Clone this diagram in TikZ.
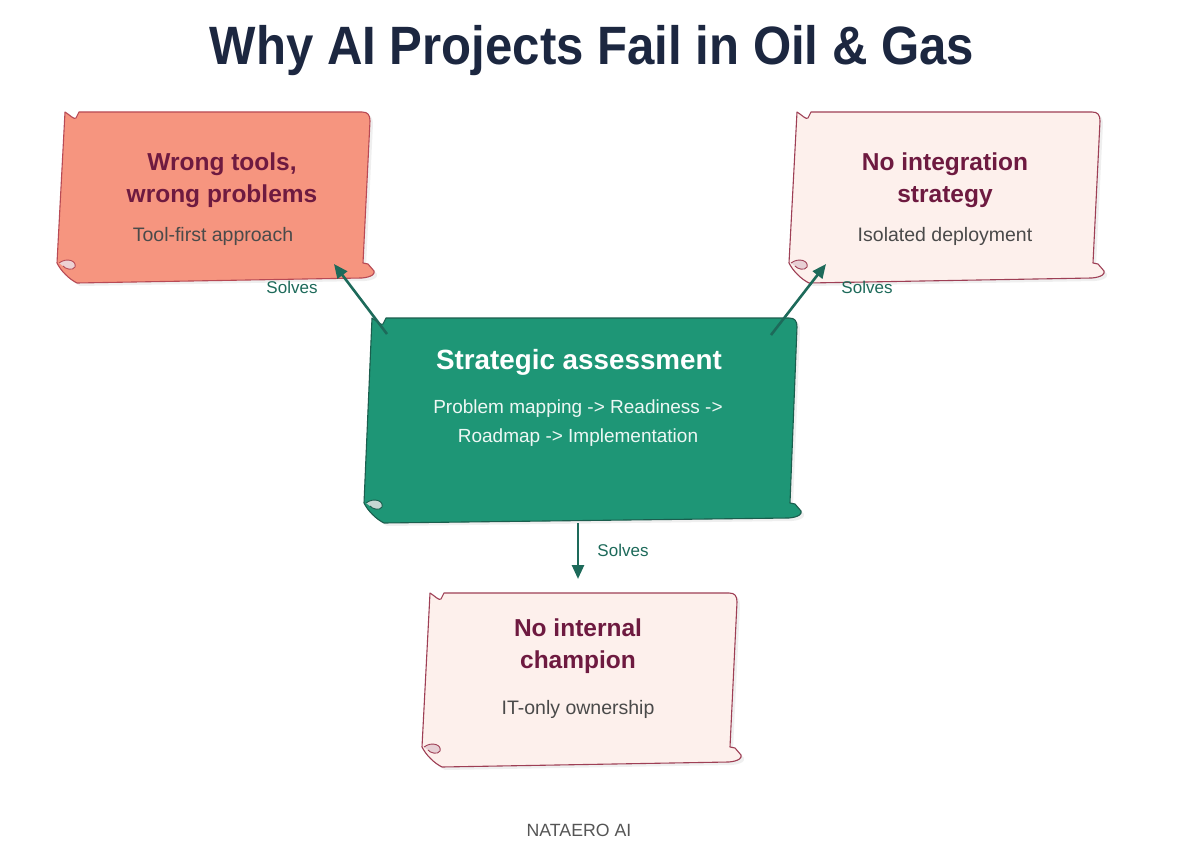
\documentclass[tikz,border=0pt]{standalone}
\usepackage{fontspec}
\setmainfont{Liberation Sans}
\usetikzlibrary{arrows.meta,shadows}
\definecolor{navy}{HTML}{1C2740}
\definecolor{salmon}{HTML}{F6957F}
\definecolor{salmonedge}{HTML}{B84A55}
\definecolor{pinkfill}{HTML}{FDF0EC}
\definecolor{pinkedge}{HTML}{9E3F55}
\definecolor{tealfill}{HTML}{1E9676}
\definecolor{tealedge}{HTML}{1B5E4E}
\definecolor{maroon}{HTML}{6E1A40}
\definecolor{subgray}{HTML}{4A4A4A}
\definecolor{arrowteal}{HTML}{1D6A5A}
\definecolor{footgray}{HTML}{555555}
\newcommand\paperbox[6]{%
  \path[draw=#6, fill=#5, line width=1.1pt, line join=round,
        drop shadow={shadow xshift=3pt, shadow yshift=-3pt, opacity=0.12}]
    (#1,#2)
    .. controls (#1+5,#2+3) and (#1+9,#2+8) .. (#1+11,#2+6)
    .. controls (#1+12,#2+3) .. (#1+14,#2)
    -- (#3-8,#2)
    .. controls (#3-2,#2) and (#3,#2+3) .. (#3,#2+9)
    -- (#3-7,#4-20)
    -- (#3-2,#4-19)
    -- (#3+4,#4-12)
    .. controls (#3+5,#4-9) and (#3+2,#4-6) .. (#3-8,#4-5)
    -- (#1+12,#4)
    .. controls (#1+4,#4-4) and (#1-4,#4-12) .. (#1-8,#4-20)
    -- cycle;
  \draw[#6, line width=0.9pt, fill=#6!25]
    (#1-6,#4-20) .. controls (#1+2,#4-26) and (#1+12,#4-22) .. (#1+10,#4-16)
    .. controls (#1+8,#4-12) and (#1,#4-14) .. (#1-2,#4-17);
}
\tikzset{
  boxtitle/.style={font=\fontsize{24.5}{32}\selectfont\bfseries, text=maroon, align=center, inner sep=0pt},
  boxsub/.style={font=\fontsize{19.5}{24}\selectfont, text=subgray, inner sep=0pt},
  arr/.style={arrowteal, line width=2.6pt, -{Triangle[length=14pt,width=12pt]}},
  lbl/.style={font=\fontsize{17}{20}\selectfont, text=arrowteal, inner sep=0pt},
}
\begin{document}
\begin{tikzpicture}[x=1pt,y=-1pt]
\useasboundingbox[fill=white] (0,0) rectangle (1200,864);
% title
\node[font=\fontsize{54}{60}\selectfont\bfseries, text=navy, inner sep=0pt, anchor=base] (title) at (592,65) {\scalebox{0.91}[1]{Why AI Projects Fail in Oil \& Gas}};
% boxes
\paperbox{65}{112}{370}{283}{salmon}{salmonedge}
\paperbox{797}{112}{1100}{283}{pinkfill}{pinkedge}
\paperbox{430}{593}{737}{767}{pinkfill}{pinkedge}
\paperbox{372}{318}{797}{523}{tealfill}{tealedge}
% texts
\node[boxtitle] (b1t) at (222,180) {Wrong tools,\\wrong problems};
\node[boxsub] (b1s) at (213,236) {Tool-first approach};
\node[boxtitle] (b2t) at (945,180) {No integration\\strategy};
\node[boxsub] (b2s) at (945,236) {Isolated deployment};
\node[boxtitle] (b3t) at (578,646) {No internal\\champion};
\node[boxsub] (b3s) at (578,709) {IT-only ownership};
\node[font=\fontsize{27.8}{32}\selectfont\bfseries, text=white, inner sep=0pt] (sat) at (579,362) {Strategic assessment};
\node[font=\fontsize{19}{29}\selectfont, text=white!92!tealfill, align=center, inner sep=0pt] (sas) at (578,423) {Problem mapping -> Readiness ->\\Roadmap -> Implementation};
% connector endpoints
\coordinate (sa-nw) at (387,334);
\coordinate (sa-ne) at (771,335);
\coordinate (sa-s) at (578,523);
\coordinate (b1-in) at (334,264);
\coordinate (b2-in) at (826,264);
\coordinate (b3-in) at (578,579);
\draw[arr] (sa-nw) -- (b1-in);
\draw[arr] (sa-ne) -- (b2-in);
\draw[arr] (sa-s) -- (b3-in);
\node[lbl] (l1) at (292,287) {Solves};
\node[lbl] (l2) at (867,287) {Solves};
\node[lbl] (l3) at (623,550) {Solves};
% footer
\node[font=\fontsize{17.7}{20}\selectfont, text=footgray, inner sep=0pt] (foot) at (579,830) {NATAERO AI};
\end{tikzpicture}
\end{document}
